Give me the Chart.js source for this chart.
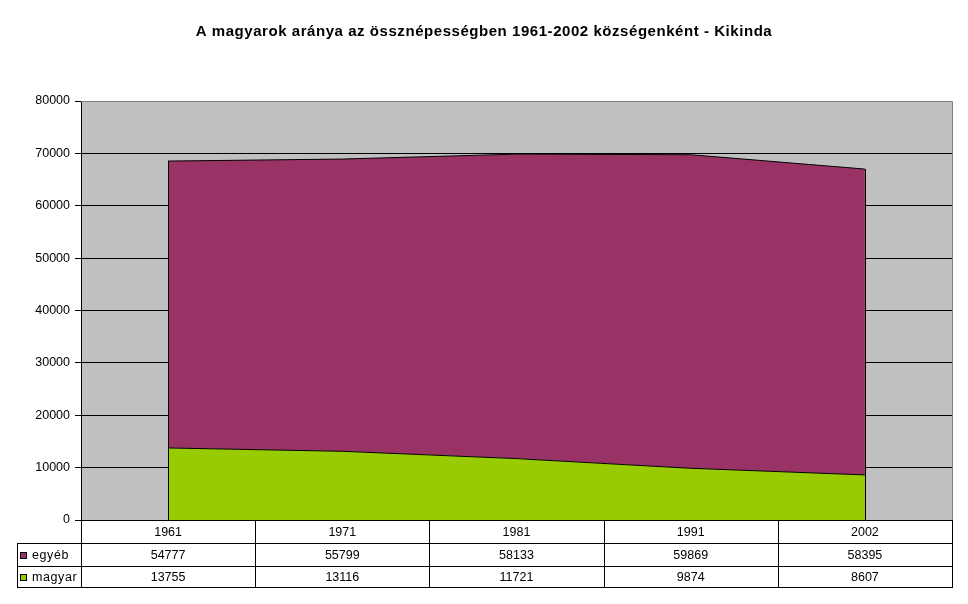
<!DOCTYPE html>
<html>
<head>
<meta charset="utf-8">
<script src="https://cdn.jsdelivr.net/npm/chart.js@4.4.1/dist/chart.umd.min.js"></script>
<style>
html,body{margin:0;padding:0;background:#fff;}
#wrap{width:968px;height:604px;position:relative;}
</style>
</head>
<body>
<div id="wrap"><canvas id="c" width="968" height="604"></canvas></div>
<script>
const titleText = 'A magyarok aránya az össznépességben 1961-2002 községenként - Kikinda';
const categories = ['1961', '1971', '1981', '1991', '2002'];
const egyeb = [54777, 55799, 58133, 59869, 58395];
const magyar = [13755, 13116, 11721, 9874, 8607];
const seriesNames = ['egyéb', 'magyar'];
const yMin = 0, yMax = 80000, yStep = 10000;

const COL_EGYEB = '#993366';
const COL_MAGYAR = '#99CC00';
const FONT = '"Liberation Sans", Arial, sans-serif';

const bgPlugin = {
  id: 'bg',
  beforeDraw(chart) {
    const ca = chart.chartArea, ctx = chart.ctx;
    ctx.save();
    ctx.fillStyle = '#fff';
    ctx.fillRect(0, 0, chart.width, chart.height);
    ctx.fillStyle = '#C0C0C0';
    ctx.fillRect(ca.left, ca.top, ca.right - ca.left, ca.bottom - ca.top);
    ctx.restore();
  }
};

const edgePlugin = {
  id: 'edges',
  afterDatasetsDraw(chart) {
    const ctx = chart.ctx, xs = chart.scales.x, ys = chart.scales.y, ca = chart.chartArea;
    ctx.save();
    ctx.strokeStyle = '#000';
    ctx.lineWidth = 1;
    [0, categories.length - 1].forEach(i => {
      const x = Math.round(xs.getPixelForValue(i)) + 0.5;
      ctx.beginPath();
      ctx.moveTo(x, ys.getPixelForValue(0));
      ctx.lineTo(x, ys.getPixelForValue(magyar[i] + egyeb[i]));
      ctx.stroke();
    });
    ctx.strokeStyle = '#808080';
    ctx.beginPath();
    ctx.moveTo(ca.left, Math.round(ca.top) + 0.5);
    ctx.lineTo(Math.round(ca.right) + 0.5, Math.round(ca.top) + 0.5);
    ctx.lineTo(Math.round(ca.right) + 0.5, ca.bottom);
    ctx.stroke();
    ctx.restore();
  }
};

const tablePlugin = {
  id: 'table',
  afterDraw(chart) {
    const ctx = chart.ctx, ca = chart.chartArea, xs = chart.scales.x;
    const n = categories.length;
    const L = Math.round(ca.left), R = Math.round(ca.right), B = Math.round(ca.bottom);
    const rows = [B, B + 23, B + 46, B + 67];
    const legL = 17;
    const colW = (R - L) / n;
    ctx.save();
    ctx.strokeStyle = '#000';
    ctx.lineWidth = 1;
    ctx.beginPath();
    ctx.moveTo(L, rows[0] + 0.5); ctx.lineTo(R + 1, rows[0] + 0.5);
    for (let r = 1; r < 4; r++) { ctx.moveTo(legL, rows[r] + 0.5); ctx.lineTo(R + 1, rows[r] + 0.5); }
    ctx.moveTo(legL + 0.5, rows[1]); ctx.lineTo(legL + 0.5, rows[3] + 1);
    for (let i = 0; i <= n; i++) {
      const x = Math.round(L + i * colW) + 0.5;
      ctx.moveTo(x, rows[0]); ctx.lineTo(x, rows[3] + 1);
    }
    ctx.stroke();

    ctx.fillStyle = '#000';
    ctx.font = '12.5px ' + FONT;
    ctx.textAlign = 'center';
    ctx.textBaseline = 'middle';
    const rowData = [categories, egyeb, magyar];
    for (let r = 0; r < 3; r++) {
      const cy = (rows[r] + rows[r + 1]) / 2 + 1;
      for (let i = 0; i < n; i++) {
        ctx.fillText(String(rowData[r][i]), xs.getPixelForValue(i), cy);
      }
    }
    const cols = [COL_EGYEB, COL_MAGYAR];
    ctx.textAlign = 'left';
    ctx.letterSpacing = '0.6px';
    for (let k = 0; k < 2; k++) {
      const cy = (rows[k + 1] + rows[k + 2]) / 2;
      ctx.fillStyle = cols[k];
      ctx.fillRect(20, Math.round(cy) - 3, 7, 7);
      ctx.strokeRect(20.5, Math.round(cy) - 2.5, 6, 6);
      ctx.fillStyle = '#000';
      ctx.fillText(seriesNames[k], 32, cy + 1);
    }
    ctx.textAlign = 'center';
    ctx.font = 'bold 15px ' + FONT;
    ctx.letterSpacing = '0.55px';
    ctx.fillText(titleText, 484, 32);
    ctx.restore();
  }
};

new Chart(document.getElementById('c'), {
  type: 'line',
  data: {
    labels: categories,
    datasets: [
      { label: seriesNames[1], data: magyar, backgroundColor: COL_MAGYAR, borderColor: '#000', borderWidth: 1, fill: 'origin', pointRadius: 0, tension: 0 },
      { label: seriesNames[0], data: egyeb, backgroundColor: COL_EGYEB, borderColor: '#000', borderWidth: 1, fill: '-1', pointRadius: 0, tension: 0 }
    ]
  },
  options: {
    responsive: false,
    animation: false,
    devicePixelRatio: 1,
    layout: { padding: { left: 0, right: 16, top: 101, bottom: 84 } },
    plugins: { legend: { display: false }, title: { display: false }, tooltip: { enabled: false } },
    scales: {
      x: { type: 'category', offset: true, display: false, stacked: true },
      y: {
        stacked: true,
        min: yMin, max: yMax,
        afterFit(scale) { scale.width = 81; },
        ticks: { stepSize: yStep, color: '#000', font: { family: FONT, size: 12.5 }, padding: 5, callback: v => String(v) },
        grid: {
          color: ctx => (ctx.tick && ctx.tick.value === yMax) ? 'rgba(0,0,0,0)' : '#000',
          tickColor: '#000', tickLength: 6, lineWidth: 1
        },
        border: { color: '#000', width: 1 }
      }
    }
  },
  plugins: [bgPlugin, edgePlugin, tablePlugin]
});
</script>
</body>
</html>
